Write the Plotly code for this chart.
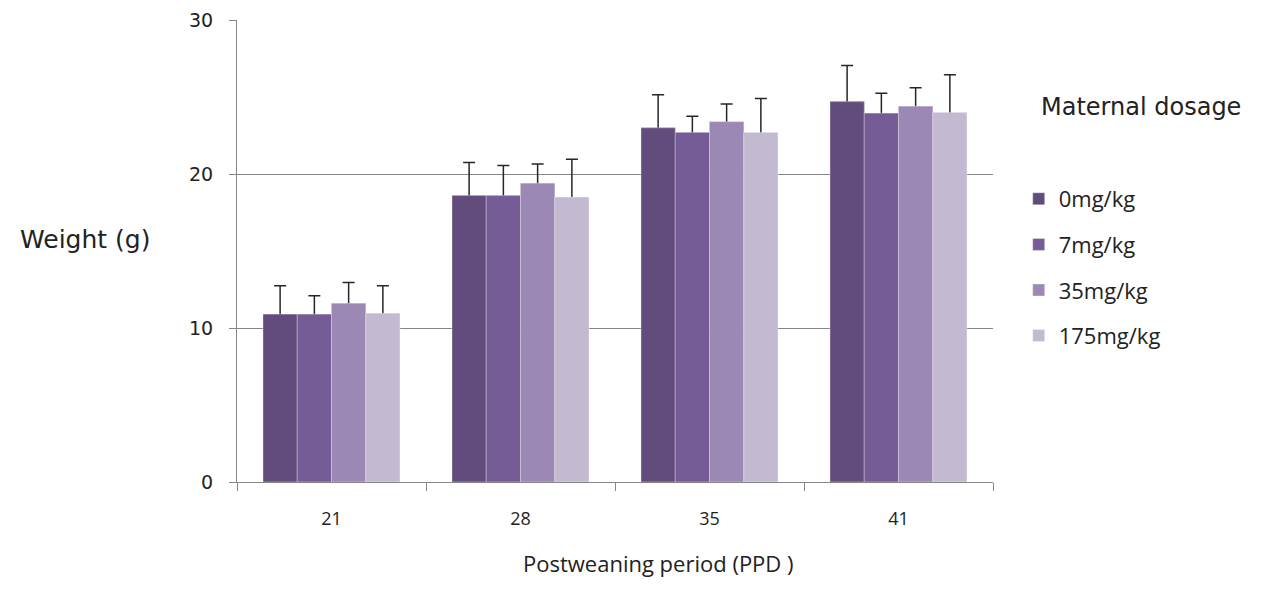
import plotly.graph_objects as go

categories = ["21", "28", "35", "41"]
series_names = ["0mg/kg", "7mg/kg", "35mg/kg", "175mg/kg"]
colors = ["#624c7e", "#765c96", "#9b88b4", "#c3b9d1"]
values = [
    [10.9, 18.6, 23.0, 24.7],
    [10.9, 18.6, 22.7, 23.95],
    [11.6, 19.4, 23.4, 24.4],
    [10.95, 18.5, 22.7, 24.0],
]
errors = [
    [1.85, 2.15, 2.15, 2.35],
    [1.2, 1.95, 1.05, 1.3],
    [1.35, 1.25, 1.15, 1.2],
    [1.8, 2.45, 2.2, 2.45],
]

SEGOE = "Open Sans"
TAHOMA = "DejaVu Sans"
TXT = "#222222"
fig = go.Figure()
# error-bar carriers (symmetric bars; lower half hidden by the bars drawn on top)
for i, name in enumerate(series_names):
    fig.add_trace(go.Bar(
        x=categories, y=values[i], name=name, offsetgroup=str(i),
        showlegend=False, hoverinfo="skip",
        marker=dict(color=colors[i], line=dict(width=0)),
        error_y=dict(type="data", array=errors[i], visible=True,
                     color="#262626", thickness=1.5, width=6),
    ))
# visible bars
for i, name in enumerate(series_names):
    fig.add_trace(go.Bar(
        x=categories, y=values[i], name=name, offsetgroup=str(i),
        legendgroup=name,
        marker=dict(color=colors[i], line=dict(color="rgba(255,255,255,0.35)", width=1)),
    ))

fig.update_layout(
    width=1248, height=573,
    margin=dict(l=229, r=263, t=12, b=99, autoexpand=False),
    paper_bgcolor="white", plot_bgcolor="white",
    barmode="group", bargap=0.275, bargroupgap=0,
    font=dict(family=SEGOE, size=18, color=TXT),
    showlegend=True,
    legend=dict(x=1.034, xanchor="left", y=0.658, yanchor="top",
                font=dict(family=SEGOE, size=22, color=TXT),
                tracegroupgap=14, itemclick=False),
    xaxis=dict(type="category", showline=True, linecolor="#868686", linewidth=1,
               ticks="outside", tickson="boundaries", ticklen=8, tickcolor="#868686",
               showgrid=False, tickfont=dict(family=SEGOE, size=18, color=TXT),
               ticklabelstandoff=20, automargin=False),
    yaxis=dict(range=[0, 30], tickvals=[0, 10, 20, 30], showline=True,
               linecolor="#868686", linewidth=1, ticks="outside", ticklen=7,
               tickcolor="#868686", gridcolor="#868686", gridwidth=1,
               zeroline=False, tickfont=dict(family=TAHOMA, size=19, color=TXT),
               ticklabelstandoff=12, automargin=False),
    annotations=[
        dict(text="Weight (g)", xref="paper", yref="paper", x=-0.201, y=0.524,
             xanchor="center", yanchor="middle",
             showarrow=False, font=dict(family=TAHOMA, size=25, color=TXT)),
        dict(text="Postweaning period (PPD )", xref="paper", yref="paper",
             x=0.5575, y=-0.212, xanchor="center", yanchor="bottom", showarrow=False,
             font=dict(family=SEGOE, size=22, color=TXT)),
        dict(text="Maternal dosage", xref="paper", yref="paper",
             x=1.196, y=0.812, xanchor="center", yanchor="middle", showarrow=False,
             font=dict(family=TAHOMA, size=24, color=TXT)),
    ],
)

fig.write_html("out.html")
